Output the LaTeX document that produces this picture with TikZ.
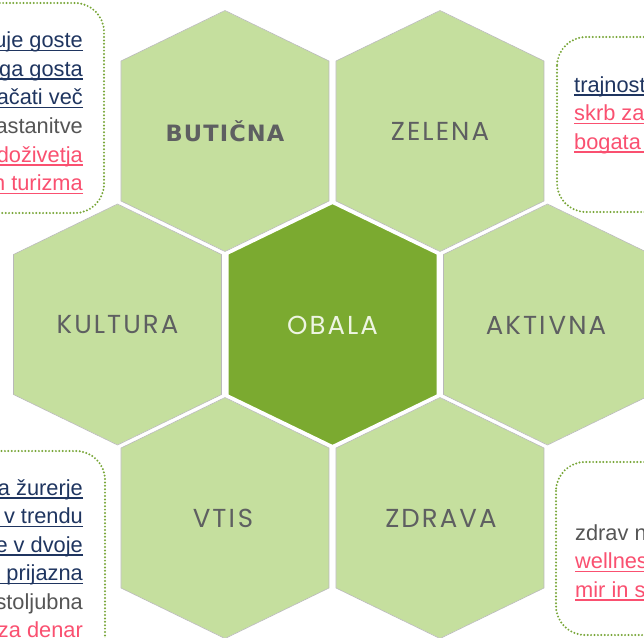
\documentclass[tikz,border=0pt]{standalone}
\usepackage{fontspec}
\setmainfont{Liberation Sans}
\newfontfamily\hexfont[LetterSpace=8]{Poppins}
\newfontfamily\boldhexfont[LetterSpace=5]{DejaVu Sans}
\definecolor{hexlight}{HTML}{C5DF9E}
\definecolor{hexdark}{HTML}{7BAA30}
\definecolor{labelgray}{HTML}{5E5F61}
\definecolor{obalatext}{HTML}{EEF5E2}
\definecolor{boxgreen}{HTML}{78A638}
\definecolor{navytext}{HTML}{1F3560}
\definecolor{pinktext}{HTML}{FA5070}
\definecolor{graytext}{HTML}{555555}
\newcommand{\hexshape}[2]{({#1-105.5},{#2-71}) -- ({#1},{#2-122}) -- ({#1+105.5},{#2-71}) -- ({#1+105.5},{#2+71}) -- ({#1},{#2+122}) -- ({#1-105.5},{#2+71}) -- cycle}
\newcommand{\hexedge}[2]{({#1-104},{#2-70}) -- ({#1},{#2-120.5}) -- ({#1+104},{#2-70}) -- ({#1+104},{#2+70}) -- ({#1},{#2+120.5}) -- ({#1-104},{#2+70}) -- cycle}
\tikzset{
  hexfill/.style={fill=#1, draw=white, line width=3pt, line join=miter},
  hexrim/.style={draw=gray!55, line width=0.6pt},
  hexlabel/.style={font=\hexfont\fontsize{26}{30}\selectfont, text=labelgray, inner sep=0pt},
  boxline/.style={draw=boxgreen, line width=2.2pt, dash pattern=on 0pt off 3.4pt, line cap=round, rounded corners=29pt, fill=white},
  boxtext/.style={font=\fontsize{21.8}{26}\selectfont, inner sep=0pt},
  ulline/.style={line width=1.2pt},
}
\begin{document}
\begin{tikzpicture}[x=1pt, y=-1pt]
\useasboundingbox (0,0) rectangle (644,637);
\clip (0,0) rectangle (644,637);
\fill[white] (0,0) rectangle (644,637);
% dotted side boxes
\draw[boxline] (-40,3) rectangle (104,213);
\draw[boxline] (557,37) rectangle (700,212);
\draw[boxline] (-40,451) rectangle (105,700);
\draw[boxline] (556,462) rectangle (700,635);
% box texts
\node[boxtext, text=navytext, anchor=base east] (tl1) at (83,47.5) {uje goste};
\node[boxtext, text=navytext, anchor=base east] (tl2) at (83,76) {ga gosta};
\node[boxtext, text=navytext, anchor=base east] (tl3) at (83,104.5) {ačati več};
\node[boxtext, text=graytext, anchor=base east] (tl4) at (83,133) {astanitve};
\node[boxtext, text=pinktext, anchor=base east] (tl5) at (83,162) {doživetja};
\node[boxtext, text=pinktext, anchor=base east] (tl6) at (83,190.5) {n turizma};
\node[boxtext, text=navytext, anchor=base west] (tr1) at (574,92) {trajnost};
\node[boxtext, text=pinktext, anchor=base west] (tr2) at (574,120.5) {skrb za};
\node[boxtext, text=pinktext, anchor=base west] (tr3) at (574,149) {bogata};
\node[boxtext, text=navytext, anchor=base east] (bl1) at (83,495) {a žurerje};
\node[boxtext, text=navytext, anchor=base east] (bl2) at (83,523.5) {v trendu};
\node[boxtext, text=navytext, anchor=base east] (bl3) at (83,552) {e v dvoje};
\node[boxtext, text=navytext, anchor=base east] (bl4) at (83,580.5) {prijazna};
\node[boxtext, text=graytext, anchor=base east] (bl5) at (83,609) {stoljubna};
\node[boxtext, text=pinktext, anchor=base east] (bl6) at (83,637.5) {za denar};
\node[boxtext, text=graytext, anchor=base west] (br1) at (575,540) {zdrav n};
\node[boxtext, text=pinktext, anchor=base west] (br2) at (575,568.5) {wellness};
\node[boxtext, text=pinktext, anchor=base west] (br3) at (575,597) {mir in s};
% underlines
\foreach \n in {tl1,tl2,tl3,bl1,bl2,bl3,bl4}
  \draw[ulline, navytext] ([yshift=-3pt]\n.base east) -- ([yshift=-3pt]\n.base east -| 0,0);
\foreach \n in {tl5,tl6,bl6}
  \draw[ulline, pinktext] ([yshift=-3pt]\n.base east) -- ([yshift=-3pt]\n.base east -| 0,0);
\draw[ulline, navytext] ([yshift=-3pt]tr1.base west) -- ([yshift=-3pt]tr1.base west -| 644,0);
\foreach \n in {tr2,tr3,br2,br3}
  \draw[ulline, pinktext] ([yshift=-3pt]\n.base west) -- ([yshift=-3pt]\n.base west -| 644,0);
% hexagons
\path[hexfill=hexlight] \hexshape{225}{131};
\path[hexfill=hexlight] \hexshape{440}{131};
\path[hexfill=hexlight] \hexshape{117.5}{324.5};
\path[hexfill=hexdark] \hexshape{332.5}{324.5};
\path[hexfill=hexlight] \hexshape{547.5}{324.5};
\path[hexfill=hexlight] \hexshape{225}{518};
\path[hexfill=hexlight] \hexshape{440}{518};
\draw[hexrim] \hexedge{225}{131};
\draw[hexrim] \hexedge{440}{131};
\draw[hexrim] \hexedge{117.5}{324.5};
\draw[hexrim] \hexedge{547.5}{324.5};
\draw[hexrim] \hexedge{225}{518};
\draw[hexrim] \hexedge{440}{518};
% labels
\node[inner sep=0pt, text=labelgray, font=\boldhexfont\bfseries\fontsize{22.5}{26}\selectfont] (butic) at (225,131) {BUTIČNA};
\node[hexlabel] (zelena) at (440,131) {ZELENA};
\node[hexlabel] (kultura) at (117.5,325) {KULTURA};
\node[hexlabel, text=obalatext] (obala) at (332.5,325) {OBALA};
\node[hexlabel] (aktivna) at (546,325) {AKTI\hspace{3pt}VNA};
\node[hexlabel] (vtis) at (223,518) {VTI\hspace{3pt}S};
\node[hexlabel] (zdrava) at (441,518) {ZDRAVA};
\end{tikzpicture}
\end{document}
